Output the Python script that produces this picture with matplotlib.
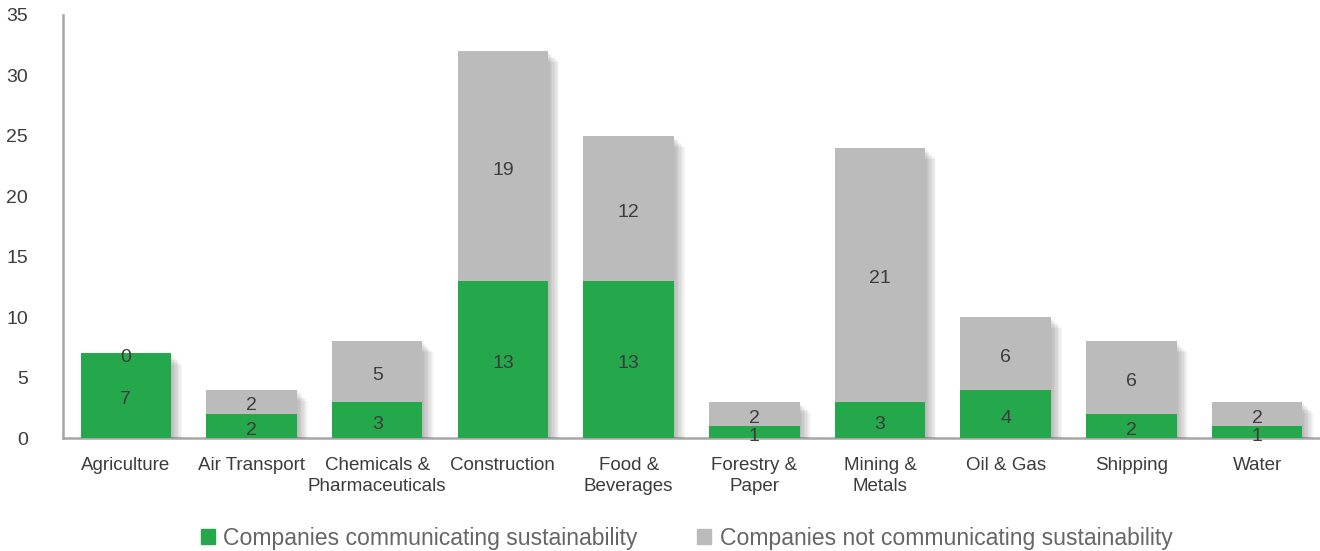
import matplotlib
matplotlib.use("Agg")
import matplotlib.pyplot as plt
import matplotlib.patheffects as pe
from matplotlib.patches import Patch
from matplotlib import font_manager

categories = ["Agriculture", "Air Transport", "Chemicals &\nPharmaceuticals", "Construction",
              "Food &\nBeverages", "Forestry &\nPaper", "Mining &\nMetals", "Oil & Gas",
              "Shipping", "Water"]
communicating = [7, 2, 3, 13, 13, 1, 3, 4, 2, 1]
not_communicating = [0, 2, 5, 19, 12, 2, 21, 6, 6, 2]

GREEN = "#25a84b"
GREY = "#bbbbbb"
TEXT = "#3c3c3c"

names = {f.name for f in font_manager.fontManager.ttflist}
legend_font = "Liberation Sans Narrow" if "Liberation Sans Narrow" in names else "Liberation Sans"
plt.rcParams["font.family"] = ["Liberation Sans", "DejaVu Sans"]

fig = plt.figure(figsize=(13.2, 5.51), dpi=100)
ax = fig.add_axes([0.0477, 0.205, 0.9523, 0.768])

# soft drop shadow, built from a few offset layers
shadow = [pe.SimplePatchShadow(offset=(o, -o), shadow_rgbFace="black", alpha=0.035)
          for o in (1, 2, 3, 4, 5, 6, 7, 8)]
shadow.append(pe.Normal())

x = list(range(len(categories)))
b1 = ax.bar(x, communicating, width=0.72, color=GREEN, zorder=3)
b2 = ax.bar(x, not_communicating, width=0.72, bottom=communicating, color=GREY, zorder=2)
for b in list(b1) + list(b2):
    b.set_path_effects(shadow)

# value labels, centred in each segment (slightly low like the original)
for xi, g, n in zip(x, communicating, not_communicating):
    ax.annotate(str(g), (xi, g / 2), xytext=(0, -3), textcoords="offset points",
                ha="center", va="center", fontsize=14, color=TEXT, zorder=5)
    ax.annotate(str(n), (xi, g + n / 2), xytext=(0, -3), textcoords="offset points",
                ha="center", va="center", fontsize=14, color=TEXT, zorder=5)

ax.set_xlim(-0.5, 9.5)
ax.set_ylim(0, 35)
ax.set_yticks(range(0, 36, 5))
ax.set_xticks(x)
ax.set_xticklabels(categories, fontsize=13.5, color=TEXT, linespacing=1.3)
ax.tick_params(axis="both", length=0, colors=TEXT)
ax.tick_params(axis="y", pad=25, labelsize=14)
ax.tick_params(axis="x", pad=14)
for s in ["top", "right"]:
    ax.spines[s].set_visible(False)
for s in ["left", "bottom"]:
    ax.spines[s].set_color("#a6a6a6")
    ax.spines[s].set_linewidth(1.8)

handles = [Patch(color=GREEN, label="Companies communicating sustainability"),
           Patch(color=GREY, label="Companies not communicating sustainability")]
fig.legend(handles=handles, loc="lower center", bbox_to_anchor=(0.52, -0.035), ncol=2,
           frameon=False, handlelength=0.62, handleheight=0.62, handletextpad=0.35,
           columnspacing=2.6, prop={"family": legend_font, "size": 16.6},
           labelcolor="#666666")

fig.savefig("out.png", dpi=100)
